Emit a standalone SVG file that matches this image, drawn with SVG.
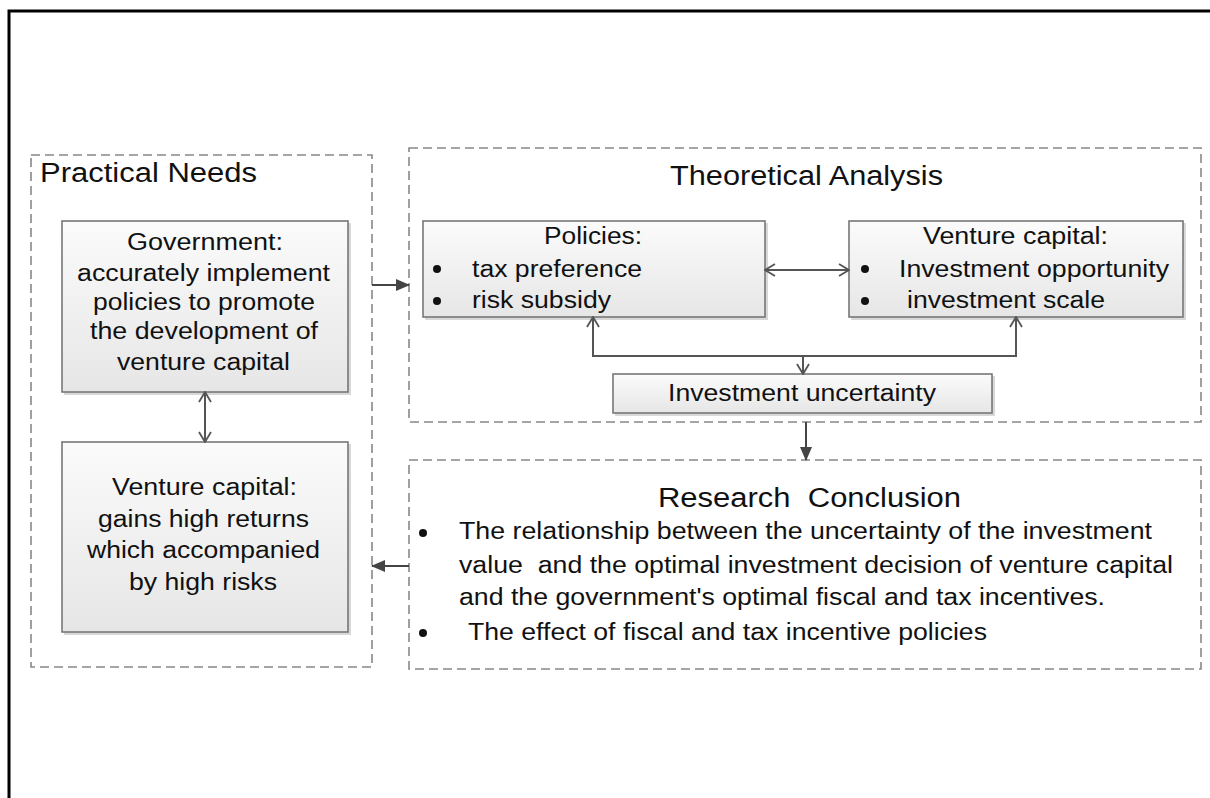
<svg xmlns="http://www.w3.org/2000/svg" width="1210" height="798" viewBox="0 0 1210 798">
<defs>
<linearGradient id="g" x1="0" y1="0" x2="0" y2="1">
<stop offset="0" stop-color="#fbfbfb"/>
<stop offset="1" stop-color="#e6e6e6"/>
</linearGradient>
<marker id="fill" markerWidth="14" markerHeight="12" refX="13" refY="6" orient="auto" markerUnits="userSpaceOnUse">
<path d="M0,0 L14,6 L0,12 Z" fill="#444"/>
</marker>
<marker id="open" markerWidth="12" markerHeight="14" refX="11" refY="7" orient="auto-start-reverse" markerUnits="userSpaceOnUse">
<path d="M1,1 L11,7 L1,13" fill="none" stroke="#555" stroke-width="1.8"/>
</marker>
</defs>
<style>
.frame{fill:none;stroke:#000;stroke-width:3}
.dash{fill:none;stroke:#888;stroke-width:1.6;stroke-dasharray:9 5}
.box{fill:url(#g);stroke:#777;stroke-width:1.6}
.shadow{fill:#d8d8d8}
.t{font-family:"Liberation Sans",Arial,sans-serif;fill:#111}
.h{font-size:27px}
.b{font-size:23px}
.bul{fill:#111}
.conn{fill:none;stroke:#555;stroke-width:2}
.fconn{fill:none;stroke:#444;stroke-width:2}
</style>
<rect width="1210" height="798" fill="#fff"/>
<path class="frame" d="M9,800 V11 H1212"/>

<g id="practical-needs">
<rect class="dash" x="31" y="155" width="341" height="512"/>
<text class="t h" x="40" y="182" textLength="217" lengthAdjust="spacingAndGlyphs">Practical Needs</text>
</g>

<g id="government">
<rect class="shadow" x="64" y="223" width="287" height="172"/>
<rect class="box" x="62" y="221" width="286" height="171"/>
<text class="t b" x="127" y="250" textLength="156" lengthAdjust="spacingAndGlyphs">Government:</text>
<text class="t b" x="77" y="281" textLength="253" lengthAdjust="spacingAndGlyphs">accurately implement</text>
<text class="t b" x="93" y="310" textLength="222" lengthAdjust="spacingAndGlyphs">policies to promote</text>
<text class="t b" x="90" y="339" textLength="228" lengthAdjust="spacingAndGlyphs">the development of</text>
<text class="t b" x="117" y="370" textLength="173" lengthAdjust="spacingAndGlyphs">venture capital</text>
</g>

<g id="venture-capital-left">
<rect class="shadow" x="64" y="444" width="287" height="191"/>
<rect class="box" x="62" y="442" width="286" height="190"/>
<text class="t b" x="112" y="495" textLength="185" lengthAdjust="spacingAndGlyphs">Venture capital:</text>
<text class="t b" x="98" y="527" textLength="211" lengthAdjust="spacingAndGlyphs">gains high returns</text>
<text class="t b" x="87" y="558" textLength="233" lengthAdjust="spacingAndGlyphs">which accompanied</text>
<text class="t b" x="129" y="590" textLength="148" lengthAdjust="spacingAndGlyphs">by high risks</text>
</g>

<g id="theoretical-analysis">
<rect class="dash" x="409" y="148" width="792" height="274"/>
<text class="t h" x="670" y="185" textLength="273" lengthAdjust="spacingAndGlyphs">Theoretical Analysis</text>
</g>

<g id="policies">
<rect class="shadow" x="425" y="223" width="343" height="97"/>
<rect class="box" x="423" y="221" width="342" height="96"/>
<text class="t b" x="544" y="244" textLength="98" lengthAdjust="spacingAndGlyphs">Policies:</text>
<circle class="bul" cx="437" cy="269" r="4"/>
<text class="t b" x="472" y="277" textLength="170" lengthAdjust="spacingAndGlyphs">tax preference</text>
<circle class="bul" cx="437" cy="301" r="4"/>
<text class="t b" x="472" y="308" textLength="139" lengthAdjust="spacingAndGlyphs">risk subsidy</text>
</g>

<g id="venture-capital-right">
<rect class="shadow" x="851" y="223" width="335" height="97"/>
<rect class="box" x="849" y="221" width="334" height="96"/>
<text class="t b" x="923" y="244" textLength="185" lengthAdjust="spacingAndGlyphs">Venture capital:</text>
<circle class="bul" cx="865" cy="269" r="4"/>
<text class="t b" x="899" y="277" textLength="270" lengthAdjust="spacingAndGlyphs">Investment opportunity</text>
<circle class="bul" cx="865" cy="301" r="4"/>
<text class="t b" x="907" y="308" textLength="198" lengthAdjust="spacingAndGlyphs">investment scale</text>
</g>

<g id="investment-uncertainty">
<rect class="shadow" x="615" y="376" width="380" height="40"/>
<rect class="box" x="613" y="374" width="379" height="39"/>
<text class="t b" x="668" y="401" textLength="268" lengthAdjust="spacingAndGlyphs">Investment uncertainty</text>
</g>

<g id="research-conclusion">
<rect class="dash" x="409" y="460" width="792" height="209"/>
<text class="t h" x="658" y="507" textLength="303" lengthAdjust="spacingAndGlyphs" xml:space="preserve">Research  Conclusion</text>
<circle class="bul" cx="423" cy="533" r="4"/>
<text class="t b" x="459" y="539" textLength="693" lengthAdjust="spacingAndGlyphs">The relationship between the uncertainty of the investment</text>
<text class="t b" x="459" y="573" textLength="714" lengthAdjust="spacingAndGlyphs" xml:space="preserve">value  and the optimal investment decision of venture capital</text>
<text class="t b" x="459" y="605" textLength="646" lengthAdjust="spacingAndGlyphs">and the government's optimal fiscal and tax incentives.</text>
<circle class="bul" cx="423" cy="633" r="4"/>
<text class="t b" x="468" y="640" textLength="519" lengthAdjust="spacingAndGlyphs">The effect of fiscal and tax incentive policies</text>
</g>

<g id="connectors">
<path class="fconn" d="M372,285 H409" marker-end="url(#fill)"/>
<path class="fconn" d="M806,422 V460" marker-end="url(#fill)"/>
<path class="fconn" d="M409,566 H372" marker-end="url(#fill)"/>
<path class="conn" d="M205,392 V442" marker-start="url(#open)" marker-end="url(#open)"/>
<path class="conn" d="M765,270 H849" marker-start="url(#open)" marker-end="url(#open)"/>
<path class="conn" d="M593,317 V356 H1016 V317" marker-start="url(#open)" marker-end="url(#open)"/>
<path class="conn" d="M803,356 V374" marker-end="url(#open)"/>
</g>
</svg>
